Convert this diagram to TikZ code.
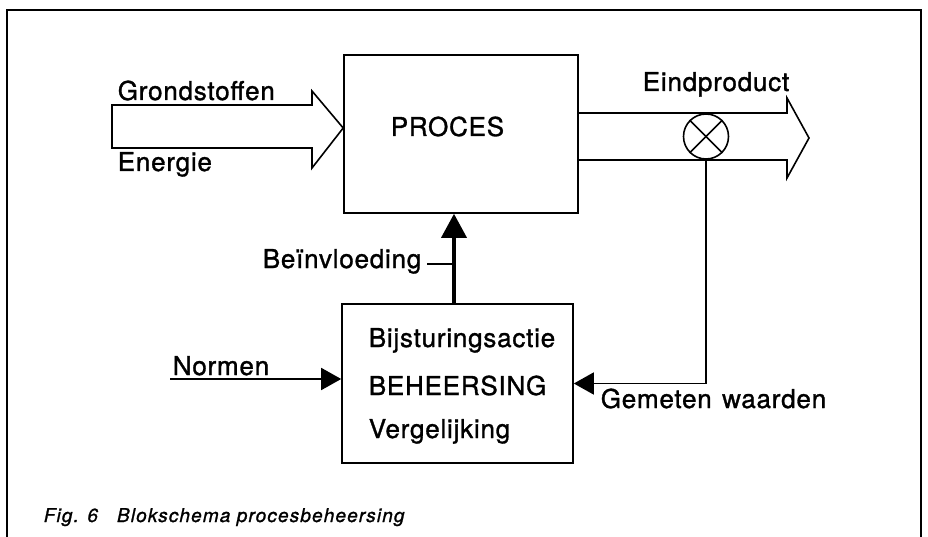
\documentclass[tikz,border=0pt]{standalone}
\usepackage{fontspec}
\setmainfont{TeX Gyre Heros}[LetterSpace=3, FakeBold=1.2]
\usetikzlibrary{arrows.meta}
\begin{document}
\begin{tikzpicture}[x=1pt,y=-1pt, line width=1.6pt,
  lbl/.style={anchor=base west, inner sep=0pt, font=\fontsize{26}{30}\selectfont},
  box/.style={draw, rectangle, inner sep=0pt},
  tip/.style={-{Triangle[length=20pt,width=22pt]}},
  hollow/.style={draw, fill=white, line join=miter}]
\useasboundingbox (0,0) rectangle (928,537);
\fill[white] (0,0) rectangle (928,537);
% frame
\draw (7,540) -- (7,10) -- (921,10) -- (921,540);
% blocks
\node[box, minimum width=234pt, minimum height=158pt] (proc) at (461,134) {};
\node[box, minimum width=231pt, minimum height=159pt] (beh) at (457.5,383.5) {};
% input hollow arrow
\path[hollow] (112,105) -- (312,105) -- (312,91) -- (proc.west |- 0,128) -- (312,168) -- (312,148) -- (112,148) -- cycle;
% output hollow arrow
\draw[line join=miter] (proc.east |- 0,113) -- (787,113) -- (787,98) -- (809,138) -- (787,178) -- (787,160) -- (proc.east |- 0,160);
% measuring point
\node[draw, circle, fill=white, minimum size=45pt, inner sep=0pt] (meas) at (706,136.5) {};
\draw (meas.north west) -- (meas.south east);
\draw (meas.north east) -- (meas.south west);
% feedback
\draw[tip] (meas.south) |- (beh.east);
% norms
\coordinate (nstart) at (170,379);
\draw[tip] (nstart) -- (beh.west |- nstart);
% influence
\draw[line width=3.6pt, -{Triangle[length=24pt,width=25pt]}] (beh.north -| 454,0) -- (proc.south -| 454,0);
\coordinate (lead) at (427,264);
\draw (lead) -- (lead -| 454,0);
% labels
\node[lbl] (grond) at (117,100) {Grondstoffen};
\node[lbl] (energ) at (117,171) {Energie};
\node[lbl] (proct) at (390,136) {PROCES};
\node[lbl] (eind) at (642,91) {Eindproduct};
\node[lbl] (beinv) at (262,268) {Beïnvloeding};
\node[lbl] (normen) at (172,375) {Normen};
\node[lbl] (bijst) at (368,347) {Bijsturingsactie};
\node[lbl] (beheer) at (368,395) {BEHEERSING};
\node[lbl] (vergel) at (368,438) {Vergelijking};
\node[lbl] (gemet) at (600,408) {Gemeten\hspace{0.4em}waarden};
\node[anchor=base west, inner sep=0pt, font=\fontsize{19}{22}\selectfont\itshape\addfontfeature{LetterSpace=6}] (cap) at (43,522) {Fig. 6\hspace{1em}Blokschema procesbeheersing};
\end{tikzpicture}
\end{document}
